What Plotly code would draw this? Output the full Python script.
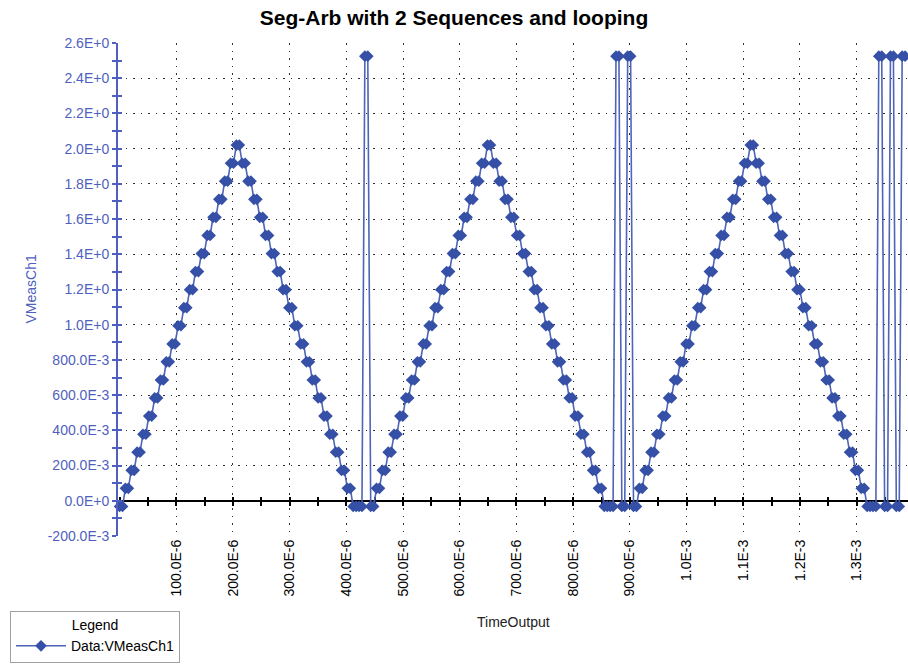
import numpy as np
import plotly.graph_objects as go

# ---------------- data ----------------
# Sequence 1: staircase triangle, one level (V) per step
triangle_levels = [-0.032, 0.071, 0.173, 0.276, 0.378, 0.481, 0.584, 0.686, 0.789, 0.891,
                   0.994, 1.097, 1.199, 1.302, 1.404, 1.507, 1.610, 1.712, 1.815, 1.917,
                   2.020,
                   1.917, 1.815, 1.712, 1.610, 1.507, 1.404, 1.302, 1.199, 1.097, 0.994,
                   0.891, 0.789, 0.686, 0.584, 0.481, 0.378, 0.276, 0.173, 0.071, -0.032]
samples_per_step = 2
# Sequence 2: pulse samples (V)
pulse_samples = [-0.032, -0.032, 2.525, 2.525]
# number of times sequence 2 runs after each triangle
pulse_loop_counts = [1, 2, 3]
sample_interval_s = 5.15e-6

y_tick_vals = [-0.2, 0.0, 0.2, 0.4, 0.6, 0.8, 1.0, 1.2, 1.4, 1.6, 1.8, 2.0, 2.2, 2.4, 2.6]
y_tick_text = ["-200.0E-3", "0.0E+0", "200.0E-3", "400.0E-3", "600.0E-3", "800.0E-3",
               "1.0E+0", "1.2E+0", "1.4E+0", "1.6E+0", "1.8E+0", "2.0E+0", "2.2E+0",
               "2.4E+0", "2.6E+0"]
x_tick_vals = [100e-6, 200e-6, 300e-6, 400e-6, 500e-6, 600e-6, 700e-6, 800e-6, 900e-6,
               1.0e-3, 1.1e-3, 1.2e-3, 1.3e-3]
x_tick_text = ["100.0E-6", "200.0E-6", "300.0E-6", "400.0E-6", "500.0E-6", "600.0E-6",
               "700.0E-6", "800.0E-6", "900.0E-6", "1.0E-3", "1.1E-3", "1.2E-3", "1.3E-3"]

x_range = [-2.8e-6, 1.3905e-3]
y_range = [-0.2, 2.6]

# ---------------- build the sampled waveform ----------------
vmeas = []
for n in pulse_loop_counts:
    for lvl in triangle_levels:
        vmeas += [lvl] * samples_per_step
    vmeas += pulse_samples * n
time_s = np.arange(len(vmeas)) * sample_interval_s

BLUE_AX = "#4F5FC0"
LINE_C = "#4E64B8"
MARK_C = "#3550A6"
FONT = "Liberation Sans, Arial, sans-serif"

fig = go.Figure()
fig.add_trace(go.Scatter(
    x=time_s, y=vmeas, mode="lines+markers", name="Data:VMeasCh1",
    line=dict(color=LINE_C, width=1.6),
    marker=dict(symbol="diamond", size=9, color=MARK_C, line=dict(width=0)),
    cliponaxis=False,
))
# empty helper traces so the overlay axes (crossing tick marks) are drawn
fig.add_trace(go.Scatter(x=[], y=[], xaxis="x2", yaxis="y", showlegend=False, hoverinfo="skip"))
fig.add_trace(go.Scatter(x=[], y=[], xaxis="x3", yaxis="y", showlegend=False, hoverinfo="skip"))
fig.add_trace(go.Scatter(x=[], y=[], xaxis="x", yaxis="y2", showlegend=False, hoverinfo="skip"))

grid_dash = "1.5px,6px"
zero_pos = (0 - y_range[0]) / (y_range[1] - y_range[0])

fig.update_layout(
    width=908, height=665,
    margin=dict(l=118, r=0, t=43, b=129, pad=0, autoexpand=False),
    paper_bgcolor="white", plot_bgcolor="white",
    font=dict(family=FONT, size=14, color="#000000"),
    title=dict(text="<b>Seg-Arb with 2 Sequences and looping</b>",
               x=0.5, xanchor="center", y=1 - 18 / 665, yanchor="middle",
               font=dict(family=FONT, size=21, color="#000000")),
    xaxis=dict(range=x_range, tickvals=x_tick_vals, ticktext=x_tick_text,
               tickangle=-90, tickfont=dict(size=14, color="#000000"),
               ticks="", showline=False, zeroline=False, automargin=False,
               showgrid=True, gridcolor="#303030", gridwidth=1.2, griddash=grid_dash),
    xaxis2=dict(range=x_range, overlaying="x", anchor="free", position=zero_pos,
                side="bottom", showline=True, linecolor="#000000", linewidth=1.5,
                ticks="outside", ticklen=4, tickwidth=1.5, tickcolor="#000000",
                tick0=0, dtick=50e-6, showticklabels=False, showgrid=False,
                zeroline=False, layer="below traces", automargin=False),
    xaxis3=dict(range=x_range, overlaying="x", anchor="free", position=zero_pos,
                side="bottom", showline=False,
                ticks="inside", ticklen=4, tickwidth=1.5, tickcolor="#000000",
                tick0=0, dtick=50e-6, showticklabels=False, showgrid=False,
                zeroline=False, layer="below traces", automargin=False),
    yaxis=dict(range=y_range, tickvals=y_tick_vals, ticktext=y_tick_text,
               tickfont=dict(size=14, color=BLUE_AX), automargin=False,
               showline=True, linecolor=BLUE_AX, linewidth=2,
               ticks="outside", ticklen=4, tickwidth=1.5, tickcolor=BLUE_AX,
               minor=dict(ticks="outside", ticklen=4, tickwidth=1.5, tickcolor=BLUE_AX,
                          tick0=0, dtick=0.1, showgrid=False),
               zeroline=False,
               showgrid=True, gridcolor="#303030", gridwidth=1.2, griddash=grid_dash),
    yaxis2=dict(range=y_range, overlaying="y", anchor="x", side="left",
                tickvals=y_tick_vals, showticklabels=False, showline=False,
                ticks="inside", ticklen=4, tickwidth=1.5, tickcolor=BLUE_AX,
                minor=dict(ticks="inside", ticklen=4, tickwidth=1.5, tickcolor=BLUE_AX,
                           tick0=0, dtick=0.1, showgrid=False),
                showgrid=False, zeroline=False, automargin=False),
    legend=dict(x=(10 - 118) / 790, y=(536 - 611) / 493, xanchor="left", yanchor="top",
                bgcolor="white", bordercolor="#A0A0A0", borderwidth=1,
                font=dict(family=FONT, size=14, color="#000000"),
                title=dict(text="Legend", side="top center",
                           font=dict(family=FONT, size=14, color="#000000")),
                itemwidth=50),
    showlegend=True,
    annotations=[
        dict(text="VMeasCh1", xref="paper", yref="paper",
             x=(30 - 118) / 790, y=0.5, xanchor="center", yanchor="middle",
             textangle=-90, showarrow=False,
             font=dict(family=FONT, size=14, color=BLUE_AX)),
        dict(text="TimeOutput", xref="paper", yref="paper",
             x=0.5, y=(536 - 622) / 493, xanchor="center", yanchor="middle",
             showarrow=False, font=dict(family=FONT, size=14, color="#222222")),
    ],
)

# remove the browser's default page margin so the figure sits at (0, 0)
fig.write_html("out.html",
               config={"displayModeBar": False},
               post_script="document.body.style.margin='0';document.body.style.padding='0';")
